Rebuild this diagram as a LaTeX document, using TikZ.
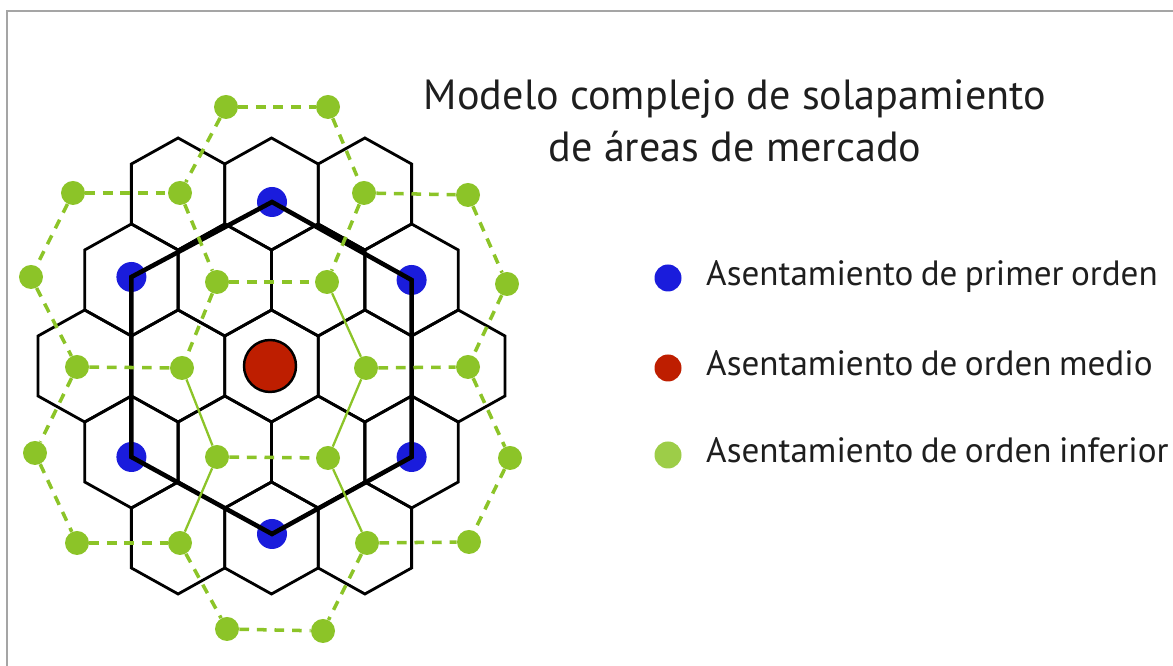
\documentclass[tikz,border=0pt]{standalone}
\usepackage{fontspec}
\setmainfont{PT Sans}
\usetikzlibrary{positioning}
\definecolor{firstblue}{RGB}{26,28,220}
\definecolor{midred}{RGB}{190,30,0}
\definecolor{lowgreen}{RGB}{140,196,40}
\definecolor{framegray}{RGB}{165,165,165}
\definecolor{inkgray}{RGB}{30,30,30}
\newcommand{\legspacing}{\spaceskip=0.21em plus 0.1em minus 0.05em\relax}
\tikzset{
  hexcell/.style={line width=1.6pt,line join=miter},
  firstnet/.style={line width=2.6pt},
  lownet/.style={lowgreen,line width=2pt,dash pattern=on 5.5pt off 4.5pt},
  lownetsolid/.style={lowgreen,line width=1.3pt},
  firstdot/.style={circle,fill=firstblue,inner sep=0pt,minimum size=0.6cm},
  middot/.style={circle,fill=midred,draw=black,line width=1.4pt,inner sep=0pt,minimum size=1.04cm},
  lowdot/.style={circle,fill=lowgreen,inner sep=0pt,minimum size=0.48cm},
  legdot/.style={circle,inner sep=0pt,minimum size=0.54cm},
  titletext/.style={anchor=base,text=inkgray,font=\fontsize{24}{28}\selectfont},
  leglabel/.style={anchor=west,text=inkgray,font=\fontsize{20}{24}\selectfont,execute at begin node=\legspacing,text height=1.7ex,text depth=0pt,inner sep=0pt}
}
\begin{document}
\begin{tikzpicture}[scale=0.5]
\useasboundingbox (0,0) rectangle (46.92,26.64);
\draw [framegray,line width=0.9pt] (0.28,0) -- (0.28,26.2) -- (46.92,26.2);
% market areas
\foreach \cx/\cy in {7.124/18.88,10.86/18.88,14.596/18.88,
  5.256/15.44,8.992/15.44,12.728/15.44,16.464/15.44,
  3.388/12.0,7.124/12.0,10.86/12.0,14.596/12.0,18.332/12.0,
  5.256/8.56,8.992/8.56,12.728/8.56,16.464/8.56,
  7.124/5.12,10.86/5.12,14.596/5.12}
  \draw [hexcell] (\cx,\cy) ++(0,2.24) -- ++(1.868,-1.04) -- ++(0,-2.4) -- ++(-1.868,-1.04) -- ++(-1.868,1.04) -- ++(0,2.4) -- cycle;
% first order
\node (b1) [firstdot] at (10.88,18.56) {};
\node (b2) [firstdot] at (5.256,15.56) {};
\node (b3) [firstdot] at (16.464,15.44) {};
\node (b4) [firstdot] at (5.256,8.36) {};
\node (b5) [firstdot] at (16.464,8.36) {};
\node (b6) [firstdot] at (10.88,5.28) {};
\draw [firstnet] (b1.center) -- (b2.center) -- (b4.center) -- (b6.center) -- (b5.center) -- (b3.center) -- cycle;
% lower order
\node (gT1) [lowdot] at (9.04,22.36) {};
\node (gT2) [lowdot] at (13.12,22.36) {};
\node (gUL1) [lowdot] at (2.92,18.92) {};
\node (gUL2) [lowdot] at (7.2,18.92) {};
\node (gUR1) [lowdot] at (14.56,18.92) {};
\node (gUR2) [lowdot] at (18.72,18.84) {};
\node (gL1) [lowdot] at (1.24,15.56) {};
\node (gR1) [lowdot] at (20.28,15.28) {};
\node (gI1) [lowdot] at (8.68,15.36) {};
\node (gI2) [lowdot] at (13.08,15.36) {};
\node (gM1) [lowdot] at (3.08,11.96) {};
\node (gM2) [lowdot] at (7.28,11.92) {};
\node (gM3) [lowdot] at (14.64,11.92) {};
\node (gM4) [lowdot] at (18.72,11.96) {};
\node (gI3) [lowdot] at (8.68,8.36) {};
\node (gI4) [lowdot] at (13.12,8.32) {};
\node (gL2) [lowdot] at (1.4,8.52) {};
\node (gR2) [lowdot] at (20.4,8.32) {};
\node (gB1) [lowdot] at (3.08,4.92) {};
\node (gB2) [lowdot] at (7.2,4.92) {};
\node (gB3) [lowdot] at (14.68,4.92) {};
\node (gB4) [lowdot] at (18.76,4.96) {};
\node (gD1) [lowdot] at (9.08,1.48) {};
\node (gD2) [lowdot] at (12.92,1.4) {};
\draw [lownet] (gT1) -- (gT2);
\draw [lownet] (gT1) -- (gUL2);
\draw [lownet] (gT2) -- (gUR1);
\draw [lownet] (gUL1) -- (gUL2);
\draw [lownet] (gUR1) -- (gUR2);
\draw [lownet] (gUL1) -- (gL1);
\draw [lownet] (gUR2) -- (gR1);
\draw [lownet] (gUL2) -- (gI1);
\draw [lownet] (gUR1) -- (gI2);
\draw [lownet] (gI1) -- (gI2);
\draw [lownet] (gL1) -- (gM1);
\draw [lownet] (gR1) -- (gM4);
\draw [lownet] (gI1) -- (gM2);
\draw [lownet] (gM1) -- (gM2);
\draw [lownet] (gM3) -- (gM4);
\draw [lownet] (gM1) -- (gL2);
\draw [lownet] (gM4) -- (gR2);
\draw [lownet] (gI3) -- (gI4);
\draw [lownet] (gL2) -- (gB1);
\draw [lownet] (gR2) -- (gB4);
\draw [lownet] (gB1) -- (gB2);
\draw [lownet] (gB3) -- (gB4);
\draw [lownet] (gB2) -- (gD1);
\draw [lownet] (gB3) -- (gD2);
\draw [lownet] (gD1) -- (gD2);
\draw [lownetsolid] (gI2) -- (gM3);
\draw [lownetsolid] (gM2) -- (gI3);
\draw [lownetsolid] (gM3) -- (gI4);
\draw [lownetsolid] (gI3) -- (gB2);
\draw [lownetsolid] (gI4) -- (gB3);
% middle order
\node (r1) [middot] at (10.8,12.0) {};
% title
\node (titlea) [titletext] at (29.4,22.24) {Modelo complejo de solapamiento};
\node (titleb) [titletext] at (29.4,20.16) {de áreas de mercado};
% legend
\node (legfirst) [legdot,fill=firstblue] at (26.72,15.52) {};
\node (legmid) [legdot,fill=midred] at (26.72,11.92) {};
\node (leglow) [legdot,fill=lowgreen!85!white] at (26.72,8.44) {};
\node (legfirsttext) [leglabel,right=0.48cm of legfirst] {Asentamiento de primer orden};
\node (legmidtext) [leglabel,right=0.48cm of legmid] {Asentamiento de orden medio};
\node (leglowtext) [leglabel,right=0.48cm of leglow] {Asentamiento de orden inferior};
\end{tikzpicture}
\end{document}
